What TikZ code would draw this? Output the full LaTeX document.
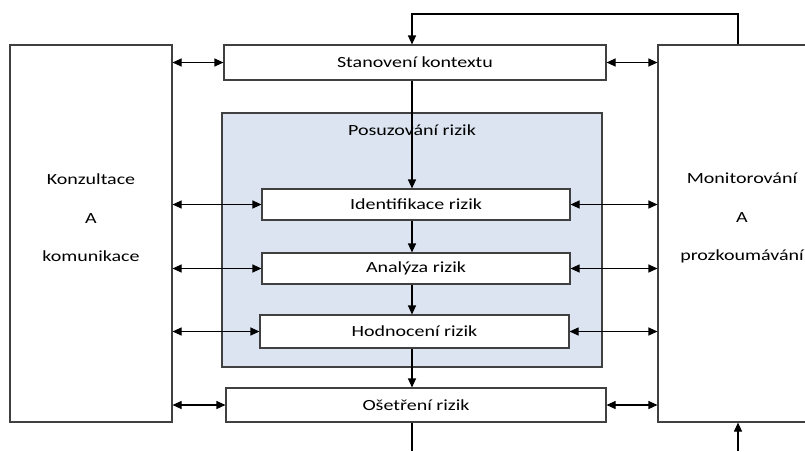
\documentclass[tikz,border=0pt]{standalone}
\usepackage{fontspec}
\setmainfont{Carlito}[FakeStretch=1.29]
\usetikzlibrary{arrows.meta,positioning}

\definecolor{posfill}{RGB}{219,228,240}
\definecolor{edgegray}{RGB}{64,64,64}

\begin{document}
\begin{tikzpicture}[x=1pt,y=-1pt,>={Triangle[length=9pt,width=8pt]},line width=1.1pt,
                        box/.style={draw=edgegray,fill=white,rectangle,inner sep=0pt,
                          font=\fontsize{15.5}{18}\selectfont},
                        side text/.style={align=center,font=\fontsize{15.5}{38.5}\selectfont}]

      \useasboundingbox (0,0) rectangle (805,451);
      \clip (0,0) rectangle (805,451);

      % outer columns
      \node[box,minimum width=162pt,minimum height=377pt] (kom) at (91,233.5) {};
      \node[box,minimum width=168pt,minimum height=377pt] (mon) at (742,233.5) {};
      \node[side text] (komText) at (91,218) {Konzultace\\A\\komunikace};
      \node[side text] (monText) at (742,218) {Monitorování\\A\\prozkoumávání};

      % assessment area
      \node[box,fill=posfill,minimum width=380pt,minimum height=254pt] (pos) at (412,240) {};
      \node[font=\fontsize{15.5}{18}\selectfont] (posText) at (412,130) {Posuzování rizik};

      % steps
      \node[box,minimum width=382pt,minimum height=35pt] (stan) at (415,62.5) {Stanovení kontextu};
      \node[box,minimum width=308pt,minimum height=31pt] (ident) at (416,204.5) {Identifikace rizik};
      \node[box,minimum width=308pt,minimum height=31pt] (anal) at (416,268.5) {Analýza rizik};
      \node[box,minimum width=309pt,minimum height=33pt] (hodn) at (414.5,331.5) {Hodnocení rizik};
      \node[box,minimum width=380pt,minimum height=34pt] (oset) at (416,405) {Ošetření rizik};

      \coordinate (mid) at (412,0);
      \coordinate (loopR) at (738,14);
      \coordinate (botL) at (412,451);
      \coordinate (botR) at (738,451);

      % main flow
      \draw[->] (stan.south -| mid) -- (ident.north -| mid);
      \draw[->] (ident.south -| mid) -- (anal.north -| mid);
      \draw[->] (anal.south -| mid) -- (hodn.north -| mid);
      \draw[->] (hodn.south -| mid) -- (oset.north -| mid);
      \draw[->] (mon.north -| loopR) -- (loopR) -| (stan.north -| mid);
      \draw (oset.south -| mid) -- (botL);
      \draw[->] (botR) -- (mon.south -| botR);

      % links to both sides
      \foreach \step in {stan,ident,anal,hodn,oset}{
        \draw[<->] (kom.east |- \step.west) -- (\step.west);
        \draw[<->] (\step.east) -- (mon.west |- \step.east);
      }
\end{tikzpicture}
\end{document}
